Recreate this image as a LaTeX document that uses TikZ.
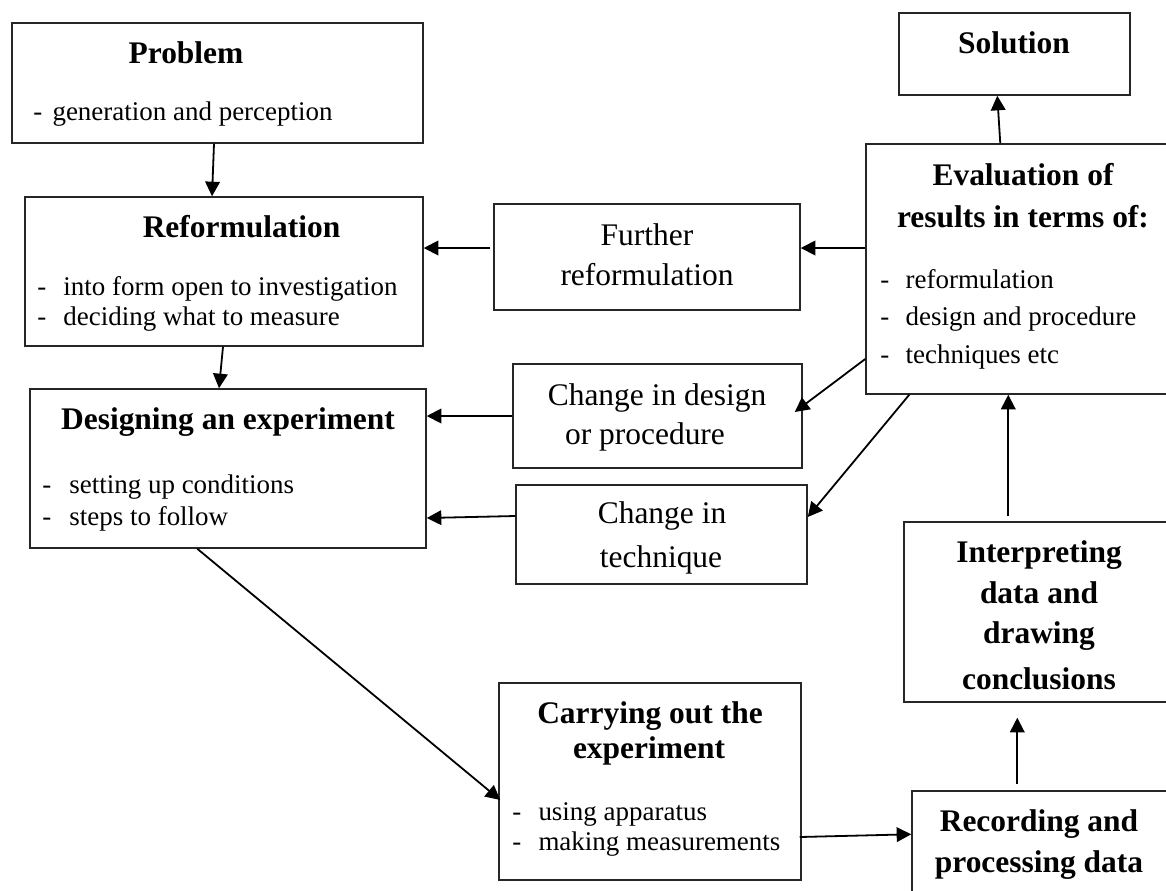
\documentclass[tikz,border=0pt]{standalone}
\usepackage{fontspec}
\setmainfont{Liberation Serif}
\usetikzlibrary{arrows.meta,calc,fit}

\begin{document}
\begin{tikzpicture}[x=0.445pt,y=-0.445pt,
  box/.style={draw=black!85, line width=0.65pt, inner sep=0pt, rectangle},
  ttl/.style={inner sep=0pt, anchor=base, font=\fontsize{14}{17}\selectfont\bfseries},
  lbl/.style={inner sep=0pt, anchor=base, font=\fontsize{14}{17}\selectfont},
  itm/.style={inner sep=0pt, anchor=base west, font=\fontsize{12}{14}\selectfont},
  flow/.style={line width=0.8pt, -{Triangle[length=6.5pt,width=6.5pt]}}]

% page frame
\useasboundingbox (0,0) rectangle (1166,890);
\fill[white] (0,0) rectangle (1166,890);
\clip (0,0) rectangle (1166,890);

% boxes
\node[box, fit={(12,23) (423,143)}] (problem) {};
\node[box, fit={(899,13) (1130,95)}] (solution) {};
\node[box, fit={(25,197) (423,346)}] (reform) {};
\node[box, fit={(494,204) (800,310)}] (further) {};
\node[box, fit={(866,144) (1178,394)}] (eval) {};
\node[box, fit={(30,389) (426,548)}] (design) {};
\node[box, fit={(513,364) (802,468)}] (chdes) {};
\node[box, fit={(516,485) (807,584)}] (chtech) {};
\node[box, fit={(904,522) (1174,702)}] (interp) {};
\node[box, fit={(499,683) (801,880)}] (carry) {};
\node[box, fit={(912,791) (1168,900)}] (record) {};

% texts
\node[ttl] (problemT) at (186,63) {Problem};
\node[itm] (problemA) at (33,120) {\makebox[8.5pt][l]{-}generation and perception};

\node[ttl] (solutionT) at (1014,53) {Solution};

\node[ttl] (reformT) at (241.5,237) {Reformulation};
\node[itm] (reformA) at (37,295) {\makebox[11.6pt][l]{-}into form open to investigation};
\node[itm] (reformB) at (37,325) {\makebox[11.6pt][l]{-}deciding what to measure};

\node[lbl] (furtherA) at (647,245) {Further};
\node[lbl] (furtherB) at (647,285) {reformulation};

\node[ttl] (evalT1) at (1023,185) {Evaluation of};
\node[ttl] (evalT2) at (1023,227) {results in terms of:};
\node[itm] (evalA) at (880,288) {\makebox[11.2pt][l]{-}reformulation};
\node[itm] (evalB) at (880,325) {\makebox[11.2pt][l]{-}design and procedure};
\node[itm] (evalC) at (880,363) {\makebox[11.2pt][l]{-}techniques etc};

\node[ttl] (designT) at (228,429) {Designing an experiment};
\node[itm] (designA) at (42,493) {\makebox[12pt][l]{-}setting up conditions};
\node[itm] (designB) at (42,525) {\makebox[12pt][l]{-}steps to follow};

\node[lbl] (chdesA) at (657,405) {Change in design};
\node[lbl] (chdesB) at (645,444) {or procedure};

\node[lbl] (chtechA) at (662,523) {Change in};
\node[lbl] (chtechB) at (661,567) {technique};

\node[ttl] (interpA) at (1039,562) {Interpreting};
\node[ttl] (interpB) at (1039,603) {data and};
\node[ttl] (interpC) at (1039,643) {drawing};
\node[ttl] (interpD) at (1039,689) {conclusions};

\node[ttl] (carryT1) at (650,723) {Carrying out the};
\node[ttl] (carryT2) at (649,758) {experiment};
\node[itm] (carryA) at (512,820) {\makebox[11.6pt][l]{-}using apparatus};
\node[itm] (carryB) at (512,850) {\makebox[11.6pt][l]{-}making measurements};

\node[ttl] (recordA) at (1039,831) {Recording and};
\node[ttl] (recordB) at (1039,872) {processing data};

% connectors
\draw[flow] ($(problem.south)+(-3.5,0)$) -- ($(reform.north)+(-12,0)$);
\draw[flow] ($(reform.south)+(-1,0)$) -- ($(design.north)+(-9,0)$);
\draw[flow] ($(further.west)+(-3,-9)$) -- ($(reform.east)+(0,-23.5)$);
\draw[flow] ($(eval.west)+(0,-21)$) -- ($(further.east)+(0,-9)$);
\draw[flow] ($(eval.west)+(0,90)$) -- ($(chdes.east)+(-8,-4)$);
\draw[flow] (chdes.west) -- ($(design.east)+(0,-52.5)$);
\draw[flow] ($(eval.south west)+(44,0)$) -- ($(chtech.east)+(0,-17.5)$);
\draw[flow] ($(chtech.west)+(0,-18.5)$) -- ($(design.east)+(0,49.5)$);
\draw[flow] ($(design.south west)+(168,0)$) -- ($(carry.west)+(2,18.5)$);
\draw[flow] ($(carry.east)+(-2,55.5)$) -- ($(record.north west)+(0,44)$);
\draw[flow] ($(record.north west)+(106,-6)$) -- ($(interp.south west)+(114,15)$);
\draw[flow] ($(interp.north west)+(105,-5)$) -- ($(eval.south west)+(143,0)$);
\draw[flow] ($(eval.north west)+(135,0)$) -- ($(solution.south west)+(99,0)$);
\end{tikzpicture}
\end{document}
